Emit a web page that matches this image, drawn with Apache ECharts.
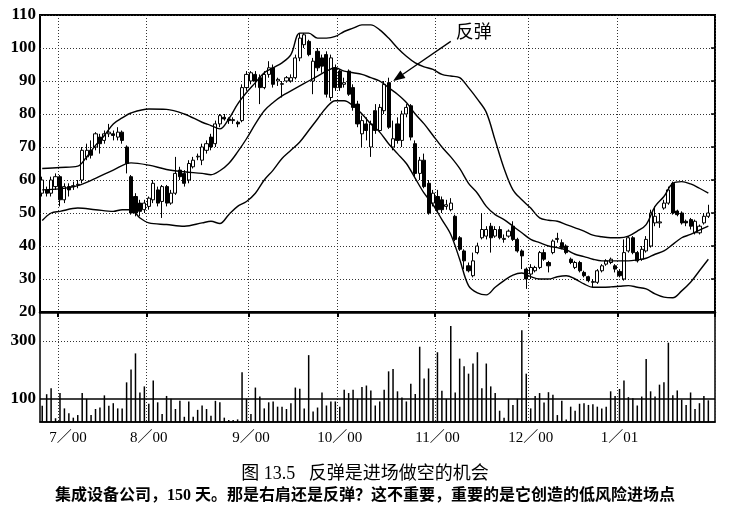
<!DOCTYPE html>
<html><head><meta charset="utf-8">
<script src="https://cdn.jsdelivr.net/npm/echarts@6/dist/echarts.min.js"></script>
<style>html,body{margin:0;padding:0;background:#fff}#c{width:730px;height:514px}</style>
</head><body><div id="c"></div>
<script>
// ---- x axis: trading days (index) and month starts ----
const dayCount = 152;
const monthLabels = ['7／00','8／00','9／00','10／00','11／00','12／00','1／01'];
const monthStarts = [4,24,47,67,89,110,130];

// ---- price (OHLC) ----
const openP = [56,57,56,58,61,54,58,58,58.5,60,
67,69,70,73,72,74,74,73,74.5,70,
61,55,53,51,52,54,57,53.5,58,53,
56,63,62,60,64,67,66,69,73,71,
77,79,78.5,78,77.5,78,88,90,92,91,
88,92,94,90,89,90,90,91,97,101,
102,90,99,97,98,85,94,93,89,93,
88,83,74,77,70,81,75,81,89.5,70,
77,72,80,82.5,71,62,66,59,53,55,
54,52,51,49,42.5,38.5,34,31,38,42.5,
43,46,43,45,42,43,46,42,38.5,33,
31.5,32.5,33.5,38,35,38,42,41,40,36,
33.5,35,32,30.7,29,29,32.5,34.5,35,34,
32.3,30,38.5,42.5,38,36,38.5,40,47,47,
51.5,53,59,50.6,50,47.5,48,44,44,47,
49];
const closeP = [60,56,60,61,54,58,57,58.3,58.7,69,
69,67.5,74,71,74,74.5,73.5,74.5,72,65,
50,50,50.5,53,54.5,59,53,58,53,56,
62,61,59,65,66,67.2,70,71,70,77,
79.5,78.5,78,78.3,77,88,92,92.5,90,88,
92,94,89,90.5,89.2,91,91,97,103,104,
98,96,94,94.5,86,97,88,88,89.5,86,
82,77,78,75,77,75,82,89,76,72.5,
72,80,82,73,62,66,58,50,56,51,
51,52.5,53,42,39,35.5,32.5,35.5,40,45,
45,42.5,45,42.5,42.3,44.5,42,38.5,37,30,
33.5,33.5,38,36,34,41.5,42.3,39.5,38,35,
35,32.5,31,29.5,29.2,32.5,34,35.5,36,33,
31,38,42.5,38,35.5,39,42,50,49,47.3,
53,57,50,49.5,47,47,46,47.5,46,49,
50];
const lowP = [55,55,55,57,52,53,55,57,57.5,59,
66,66.5,69,68,71,73,72,72,71,62,
49.5,49,49,50,51,53,52,48.5,52,52.5,
55.5,60,58,59,63.5,66,64.5,68,69,70,
76,78,77,77,76,77.5,87,89,88,83,
87.5,91,88,88.5,85,89.5,89.5,90.5,96,100,
97.5,86,93,92.5,85,84,87,87,88,85.5,
81,76,70,72,67,74,74.5,80,75.5,69,
71,70,79,72,61,60,57.5,49.5,52,50.5,
50,51,50.5,41.5,38.5,33,32,30.5,37.5,42,
42,38,42.5,42,41,42.5,41.5,38,33,27,
30,32,33,35.5,32,37.5,41,39,37.5,34.5,
33,32,30.5,29,27.5,28.5,32,34,34.5,32,
30.5,29.5,38,37.5,35,35.5,38,39.5,46,45.5,
51,52.5,49.5,49,46.5,46,45,43.5,43.5,46.5,
48.5];
const highP = [61,58,61,62,61.5,59,59,59.5,60,70,
71,72,74.5,74,75,77,75,76,75,70.5,
61.5,56,54,54,55,60,58,58.5,58.5,57,
67,64,63,66,67,68,71,72,74,78,
80,80,79,79,78,89,93,93,93,92,
93,96,95,91,90,91.5,92,98,104.5,104.5,
102.5,97,100,98,99,98,95,93.5,91,93.5,
89,84,79.5,79,78,83,83,90,91,78,
79,81,83,83,72,67,68,60,57,57,
55,54,54.5,49.5,43,39,35,38,41,50,
46,47,46,46,43.5,45,47.5,42.5,39,33.5,
34.5,34,38.5,39,35.5,42,44,42,40.5,36.5,
35.5,35.5,32.5,31,30,33,34.5,36,36.5,34.5,
33,42,43,43,38.5,40,43,51,52,50,
54,58,59.5,51,50.5,48,48.5,48,46.5,50,
52.5];

// ---- volume ----
const volume = [76,116,137,33,120,67,50,35,44,120,
100,44,65,70,112,76,85,67,67,157,
201,257,122,143,83,163,88,48,110,100,
65,93,38,91,38,62,77,65,42,93,
88,35,27,27,29,192,100,48,139,108,
67,88,91,73,73,65,85,139,135,67,
251,56,70,122,77,91,91,73,131,120,
131,100,141,146,129,77,91,131,195,203,
126,105,91,152,117,280,170,205,100,261,
128,100,352,122,239,213,187,222,261,137,
222,143,120,59,35,100,79,100,337,187,
67,110,120,87,123,114,44,93,29,73,
59,83,85,79,81,73,67,73,126,110,
134,163,106,102,77,108,238,126,108,149,
157,294,112,129,97,79,122,65,85,110,
95];
const volTickLabels = [100, 300];

// ---- Bollinger bands (read at sampled days) ----
const upperIdx = [0,4,8,10,12,14,16,18,20,24,28,32,36,38,40,42,44,46,48,50,52,54,56,58,60,62,64,66,68,70,72,74,76,78,80,82,84,86,88,90,92,94,96,98,100,102,104,106,108,110,112,114,116,118,120,122,124,126,128,130,132,134,136,138,140,142,144,146,148,150];
const upperBand = [63.5,63.8,64.2,67,70.5,73.5,77,78.8,80.3,81.5,81.4,80,77.5,76.5,75.5,78.5,83,86.5,89.5,92.5,94,95.5,98,104.5,104.5,103,103,103.5,105,106,107,107,105.5,103,100,97.5,95.5,94.3,93.5,92,91.5,91,88,84.5,80.5,72,63.5,57,54,51.5,48.5,47.8,47.5,46.5,45.5,44.5,43.3,42.8,42.5,42.5,43,44.5,46.5,52,55,59,59.5,58.8,57.5,56];
const midIdx = [0,4,8,12,16,20,24,28,32,36,38,40,42,44,46,48,50,52,54,56,58,60,62,64,66,68,70,72,74,76,78,80,82,84,86,88,90,92,94,96,98,100,102,104,106,108,110,112,114,116,118,120,122,124,126,128,130,132,134,136,138,140,142,144,146,148,150];
const midBand = [57,57.3,58.3,60.5,63,65.2,64.5,63.2,62.5,62,61.6,62.8,65,68.5,72.5,77,81,83.5,85.5,87,88.5,90,91.5,93,94,93,92.5,92,91,90,88,86,83.5,80,77,73.5,70,67,63.5,59,56,52,49.5,48,46,44,42,41,40,39.5,38.8,37.5,36.8,36,35.5,35.5,35.5,35.5,35.8,36.3,37.5,38.5,40.5,42.5,43.5,44.8,46];
const lowerIdx = [0,2,4,8,12,16,18,20,22,24,28,32,36,38,40,42,44,46,48,50,52,54,56,58,60,62,64,66,68,70,72,74,76,78,80,82,84,86,88,90,92,94,96,98,100,102,104,106,108,110,112,114,116,118,120,122,124,126,128,130,132,134,136,138,140,142,144,146,148,150];
const lowerBand = [47.7,50,50.5,51.5,51,50.5,51,51,48.5,47,46.5,46,47,47.5,46.8,49.5,52,53.5,56,60,63,66.5,69,71.5,75,78.5,82,84,84,82.5,80,77,74.5,71,68,65,60.5,56,52.5,48,43.5,36,28,25.8,25.2,27.5,29.5,31.2,31.8,30.7,30,30,30.7,31,30,28.5,27.5,27.5,27.6,27.8,28,27.5,27,25.5,24.5,24.3,26.4,29,32.5,36];

// ---- annotation ----
const annText = '反弹';
const annTip = {index: 79, value: 90};
const annTail = {index: 92, value: 102};

const captionTitle = '图 13.5   反弹是进场做空的机会';
const captionText = '集成设备公司，150 天。那是右肩还是反弹？这不重要，重要的是它创造的低风险进场点';

// ---- build ----
const cats = Array.from({length: dayCount}, (_, i) => String(i));
const labelAt = {};
monthStarts.forEach((s, k) => { labelAt[s] = monthLabels[k]; });
const isMonth = (i) => labelAt[i] !== undefined;
const candle = openP.map((o, i) => [o, closeP[i], lowP[i], highP[i]]);
const pairs = (idx, vals) => idx.map((d, k) => [d, vals[k]]);
const dot = {type: [1, 2], color: '#333', width: 1};
const serif = 'Liberation Serif';
const bandLine = (name, idx, vals) => ({
  name, type: 'line', xAxisIndex: 0, yAxisIndex: 0, data: pairs(idx, vals),
  symbol: 'none', showSymbol: false, smooth: 0.35, z: 4,
  lineStyle: {color: '#000', width: 1.4}, silent: true
});

const chart = echarts.init(document.getElementById('c'));
chart.setOption({
  animation: false,
  backgroundColor: '#fff',
  grid: [
    {left: 40, right: 15, top: 15, height: 297, show: true, borderColor: '#000', borderWidth: 2},
    {left: 40, right: 15, top: 312, height: 110, show: true, borderColor: '#000', borderWidth: 1.5}
  ],
  xAxis: [
    {type: 'category', gridIndex: 0, data: cats, boundaryGap: true,
     axisLine: {show: true, lineStyle: {color: '#000', width: 2.5}},
     axisTick: {show: true, interval: (i) => isMonth(i), length: 5, lineStyle: {color: '#000', width: 2}},
     axisLabel: {show: false},
     splitLine: {show: true, interval: (i) => isMonth(i), lineStyle: dot}},
    {type: 'category', gridIndex: 1, data: cats, boundaryGap: true,
     axisLine: {show: true, lineStyle: {color: '#000', width: 1.5}},
     axisTick: {show: false},
     axisLabel: {show: true, interval: (i) => isMonth(i),
                 formatter: (v, i) => labelAt[i] ? (i === monthStarts[0] ? '{first|' + labelAt[i] + '}' : labelAt[i]) : '',
                 rich: {first: {padding: [0, 0, 0, 16], fontFamily: serif + ", 'Noto Sans CJK SC'", fontSize: 15, color: '#000'}},
                 fontFamily: serif + ", 'Noto Sans CJK SC'", fontSize: 15, color: '#000', margin: 9},
     splitLine: {show: true, interval: (i) => isMonth(i), lineStyle: dot}}
  ],
  yAxis: [
    {type: 'value', gridIndex: 0, min: 20, max: 110, interval: 10,
     axisLine: {show: false}, axisTick: {show: false},
     axisLabel: {fontFamily: serif, fontWeight: 'bold', fontSize: 17, color: '#000', margin: 4},
     splitLine: {show: true, lineStyle: dot}},
    {type: 'value', gridIndex: 0, position: 'right', min: 20, max: 110, interval: 10,
     axisLine: {show: false}, axisTick: {show: true, inside: true, length: 4, lineStyle: {color: '#000', width: 1.5}},
     axisLabel: {show: false}, splitLine: {show: false}},
    {type: 'value', gridIndex: 1, min: 20, max: 400, interval: 20,
     axisLine: {show: false}, axisTick: {show: false},
     axisLabel: {formatter: (v) => volTickLabels.includes(v) ? String(v) : '',
                 fontFamily: serif, fontWeight: 'bold', fontSize: 17, color: '#000', margin: 4},
     splitLine: {show: false}}
  ],
  series: [
    {type: 'candlestick', xAxisIndex: 0, yAxisIndex: 0, data: candle, barWidth: 3.6, z: 3,
     itemStyle: {color: '#fff', color0: '#000', borderColor: '#000', borderColor0: '#000',
                 borderColorDoji: '#000', borderWidth: 1}},
    bandLine('upper', upperIdx, upperBand),
    bandLine('middle', midIdx, midBand),
    bandLine('lower', lowerIdx, lowerBand),
    {type: 'bar', xAxisIndex: 1, yAxisIndex: 2, data: volume, barWidth: 1.5,
     itemStyle: {color: '#000'},
     markLine: {symbol: 'none', silent: true, label: {show: false},
       data: [
         {yAxis: 100, lineStyle: {type: 'solid', width: 1.5, color: '#000'}},
         {yAxis: 300, lineStyle: {type: [1, 2], width: 1, color: '#333'}}
       ]}}
  ]
});

// annotation arrow + captions
const tip = chart.convertToPixel({xAxisIndex: 0, yAxisIndex: 0}, [annTip.index, annTip.value]);
const tail = chart.convertToPixel({xAxisIndex: 0, yAxisIndex: 0}, [annTail.index, annTail.value]);
const dx = tip[0] - tail[0], dy = tip[1] - tail[1];
const len = Math.sqrt(dx * dx + dy * dy);
const ux = dx / len, uy = dy / len;
const headL = 12, headW = 4.5;
const bx = tip[0] - ux * headL, by = tip[1] - uy * headL;
chart.setOption({
  graphic: [
    {type: 'line', shape: {x1: tail[0], y1: tail[1], x2: bx, y2: by}, style: {stroke: '#000', lineWidth: 1.3}, z: 10},
    {type: 'polygon', shape: {points: [[tip[0], tip[1]], [bx - uy * headW, by + ux * headW], [bx + uy * headW, by - ux * headW]]},
     style: {fill: '#000'}, z: 10},
    {type: 'text', left: tail[0] + 5, top: tail[1] - 19,
     style: {text: annText, font: "18px 'Noto Sans CJK SC'", fill: '#000'}, z: 10},
    {type: 'text', left: 'center', top: 465,
     style: {text: captionTitle, font: "18px 'Liberation Serif', 'Noto Sans CJK SC'", fill: '#000'}},
    {type: 'text', left: 'center', top: 488,
     style: {text: captionText, font: "bold 16px 'Liberation Serif', 'Noto Sans CJK SC'", fill: '#000'}}
  ]
});
</script>
</body></html>
